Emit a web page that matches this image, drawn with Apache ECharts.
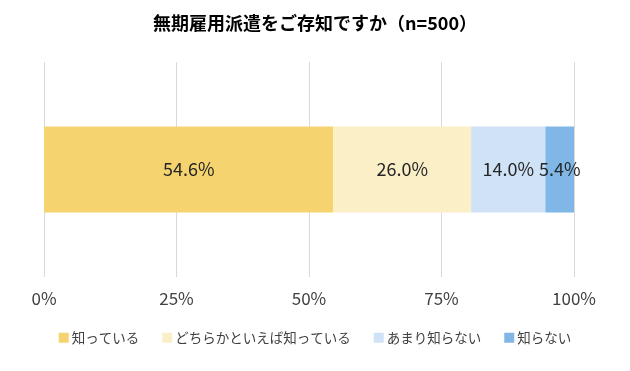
<!DOCTYPE html>
<html><head><meta charset="utf-8">
<script src="https://cdn.jsdelivr.net/npm/echarts@6/dist/echarts.min.js"></script>
<style>html,body{margin:0;padding:0;background:#fff}#c{width:630px;height:371px}</style>
</head><body><div id="c"></div>
<script>
const titleText = '無期雇用派遣をご存知ですか（n=500）';
const categories = ['Q'];
const seriesNames = ['知っている', 'どちらかといえば知っている', 'あまり知らない', '知らない'];
const seriesValues = [54.6, 26.0, 14.0, 5.4];
const seriesColors = ['#F5D46F', '#FBEFC8', '#CFE2F6', '#80B7E7'];
const tickLabels = ['0%', '25%', '50%', '75%', '100%'];
const font = '"Noto Sans CJK JP", sans-serif';
const chart = echarts.init(document.getElementById('c'));
chart.setOption({
  animation: false,
  title: {text: titleText, left: 'center', top: 9,
    textStyle: {fontFamily: font, fontSize: 18, fontWeight: 'bold', color: '#000'}},
  legend: {top: 326, left: 'center', itemWidth: 10, itemHeight: 10, itemGap: 23,
    icon: 'rect', data: seriesNames,
    textStyle: {fontFamily: font, fontSize: 13.5, color: '#404040', padding: [0,0,0,-2]}},
  grid: {left: 44, right: 56, top: 62, bottom: 94},
  xAxis: {type: 'value', min: 0, max: 100, interval: 25,
    axisLabel: {formatter: (v) => tickLabels[v / 25], fontFamily: font, fontSize: 17, color: '#404040', margin: 13},
    splitLine: {lineStyle: {color: '#D9D9D9', width: 1}},
    axisLine: {show: false}, axisTick: {show: false}},
  yAxis: {type: 'category', data: categories, show: false},
  series: seriesNames.map((n, i) => ({
    name: n, type: 'bar', stack: 'a', barWidth: 86,
    itemStyle: {color: seriesColors[i]},
    label: {show: true, position: 'inside', formatter: (p) => p.value.toFixed(1) + '%',
      fontFamily: font, fontSize: 18, color: '#262626'},
    data: [seriesValues[i]]
  }))
});
</script></body></html>
